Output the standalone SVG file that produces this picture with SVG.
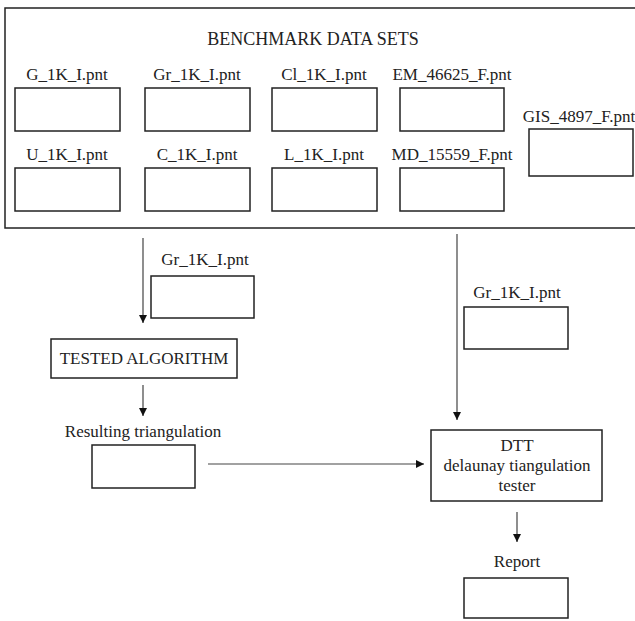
<svg xmlns="http://www.w3.org/2000/svg" width="635" height="621" viewBox="0 0 635 621">
<defs>
<marker id="ah" markerWidth="8" markerHeight="8" refX="8" refY="4" orient="auto" markerUnits="userSpaceOnUse">
<path d="M0,0 L8,4 L0,8 Z" fill="#111"/>
</marker>
<style>
.b{fill:#fff;stroke:#222;stroke-width:1.5}
.t{font-family:"Liberation Serif","Times New Roman",serif;font-size:17px;fill:#222;text-anchor:middle}
.c{stroke:#444;stroke-width:1.2;fill:none;marker-end:url(#ah)}
</style>
</defs>
<rect width="635" height="621" fill="#fff"/>
<g id="benchmark">
<rect class="b" x="5" y="8" width="640" height="220"/>
<text class="t" x="313" y="45" style="font-size:18px">BENCHMARK DATA SETS</text>
</g>
<g id="g1k"><text class="t" x="67" y="80">G_1K_I.pnt</text><rect class="b" x="15" y="88" width="105" height="43"/></g>
<g id="gr1k"><text class="t" x="197" y="80">Gr_1K_I.pnt</text><rect class="b" x="145" y="88" width="105" height="43"/></g>
<g id="cl1k"><text class="t" x="324" y="80">Cl_1K_I.pnt</text><rect class="b" x="272" y="88" width="105" height="43"/></g>
<g id="em"><text class="t" x="452" y="80">EM_46625_F.pnt</text><rect class="b" x="400" y="88" width="104" height="43"/></g>
<g id="u1k"><text class="t" x="67" y="160">U_1K_I.pnt</text><rect class="b" x="15" y="168" width="105" height="43"/></g>
<g id="c1k"><text class="t" x="197" y="160">C_1K_I.pnt</text><rect class="b" x="145" y="168" width="105" height="43"/></g>
<g id="l1k"><text class="t" x="324" y="160">L_1K_I.pnt</text><rect class="b" x="272" y="168" width="105" height="43"/></g>
<g id="md"><text class="t" x="452" y="160">MD_15559_F.pnt</text><rect class="b" x="400" y="168" width="104" height="43"/></g>
<g id="gis"><text class="t" x="579" y="122">GIS_4897_F.pnt</text><rect class="b" x="529" y="129" width="104" height="47"/></g>
<g id="input-left"><text class="t" x="205" y="265">Gr_1K_I.pnt</text><rect class="b" x="151" y="276" width="103" height="42"/></g>
<g id="tested"><rect class="b" x="51" y="339" width="186" height="39"/><text class="t" x="144" y="364">TESTED ALGORITHM</text></g>
<g id="result"><text class="t" x="143" y="437">Resulting triangulation</text><rect class="b" x="92" y="445" width="103" height="43"/></g>
<g id="input-right"><text class="t" x="517" y="298">Gr_1K_I.pnt</text><rect class="b" x="464" y="307" width="104" height="42"/></g>
<g id="dtt"><rect class="b" x="431" y="430" width="171" height="71"/>
<text class="t" x="517" y="451">DTT</text>
<text class="t" x="517" y="471">delaunay tiangulation</text>
<text class="t" x="517" y="491">tester</text></g>
<g id="report"><text class="t" x="517" y="567">Report</text><rect class="b" x="464" y="578" width="104" height="40"/></g>
<g id="connectors">
<line class="c" x1="143" y1="238" x2="143" y2="323"/>
<line class="c" x1="143" y1="385" x2="143" y2="416"/>
<line class="c" x1="457" y1="234" x2="457" y2="420"/>
<line class="c" x1="208" y1="464" x2="424" y2="464"/>
<line class="c" x1="517" y1="512" x2="517" y2="542"/>
</g>
</svg>
